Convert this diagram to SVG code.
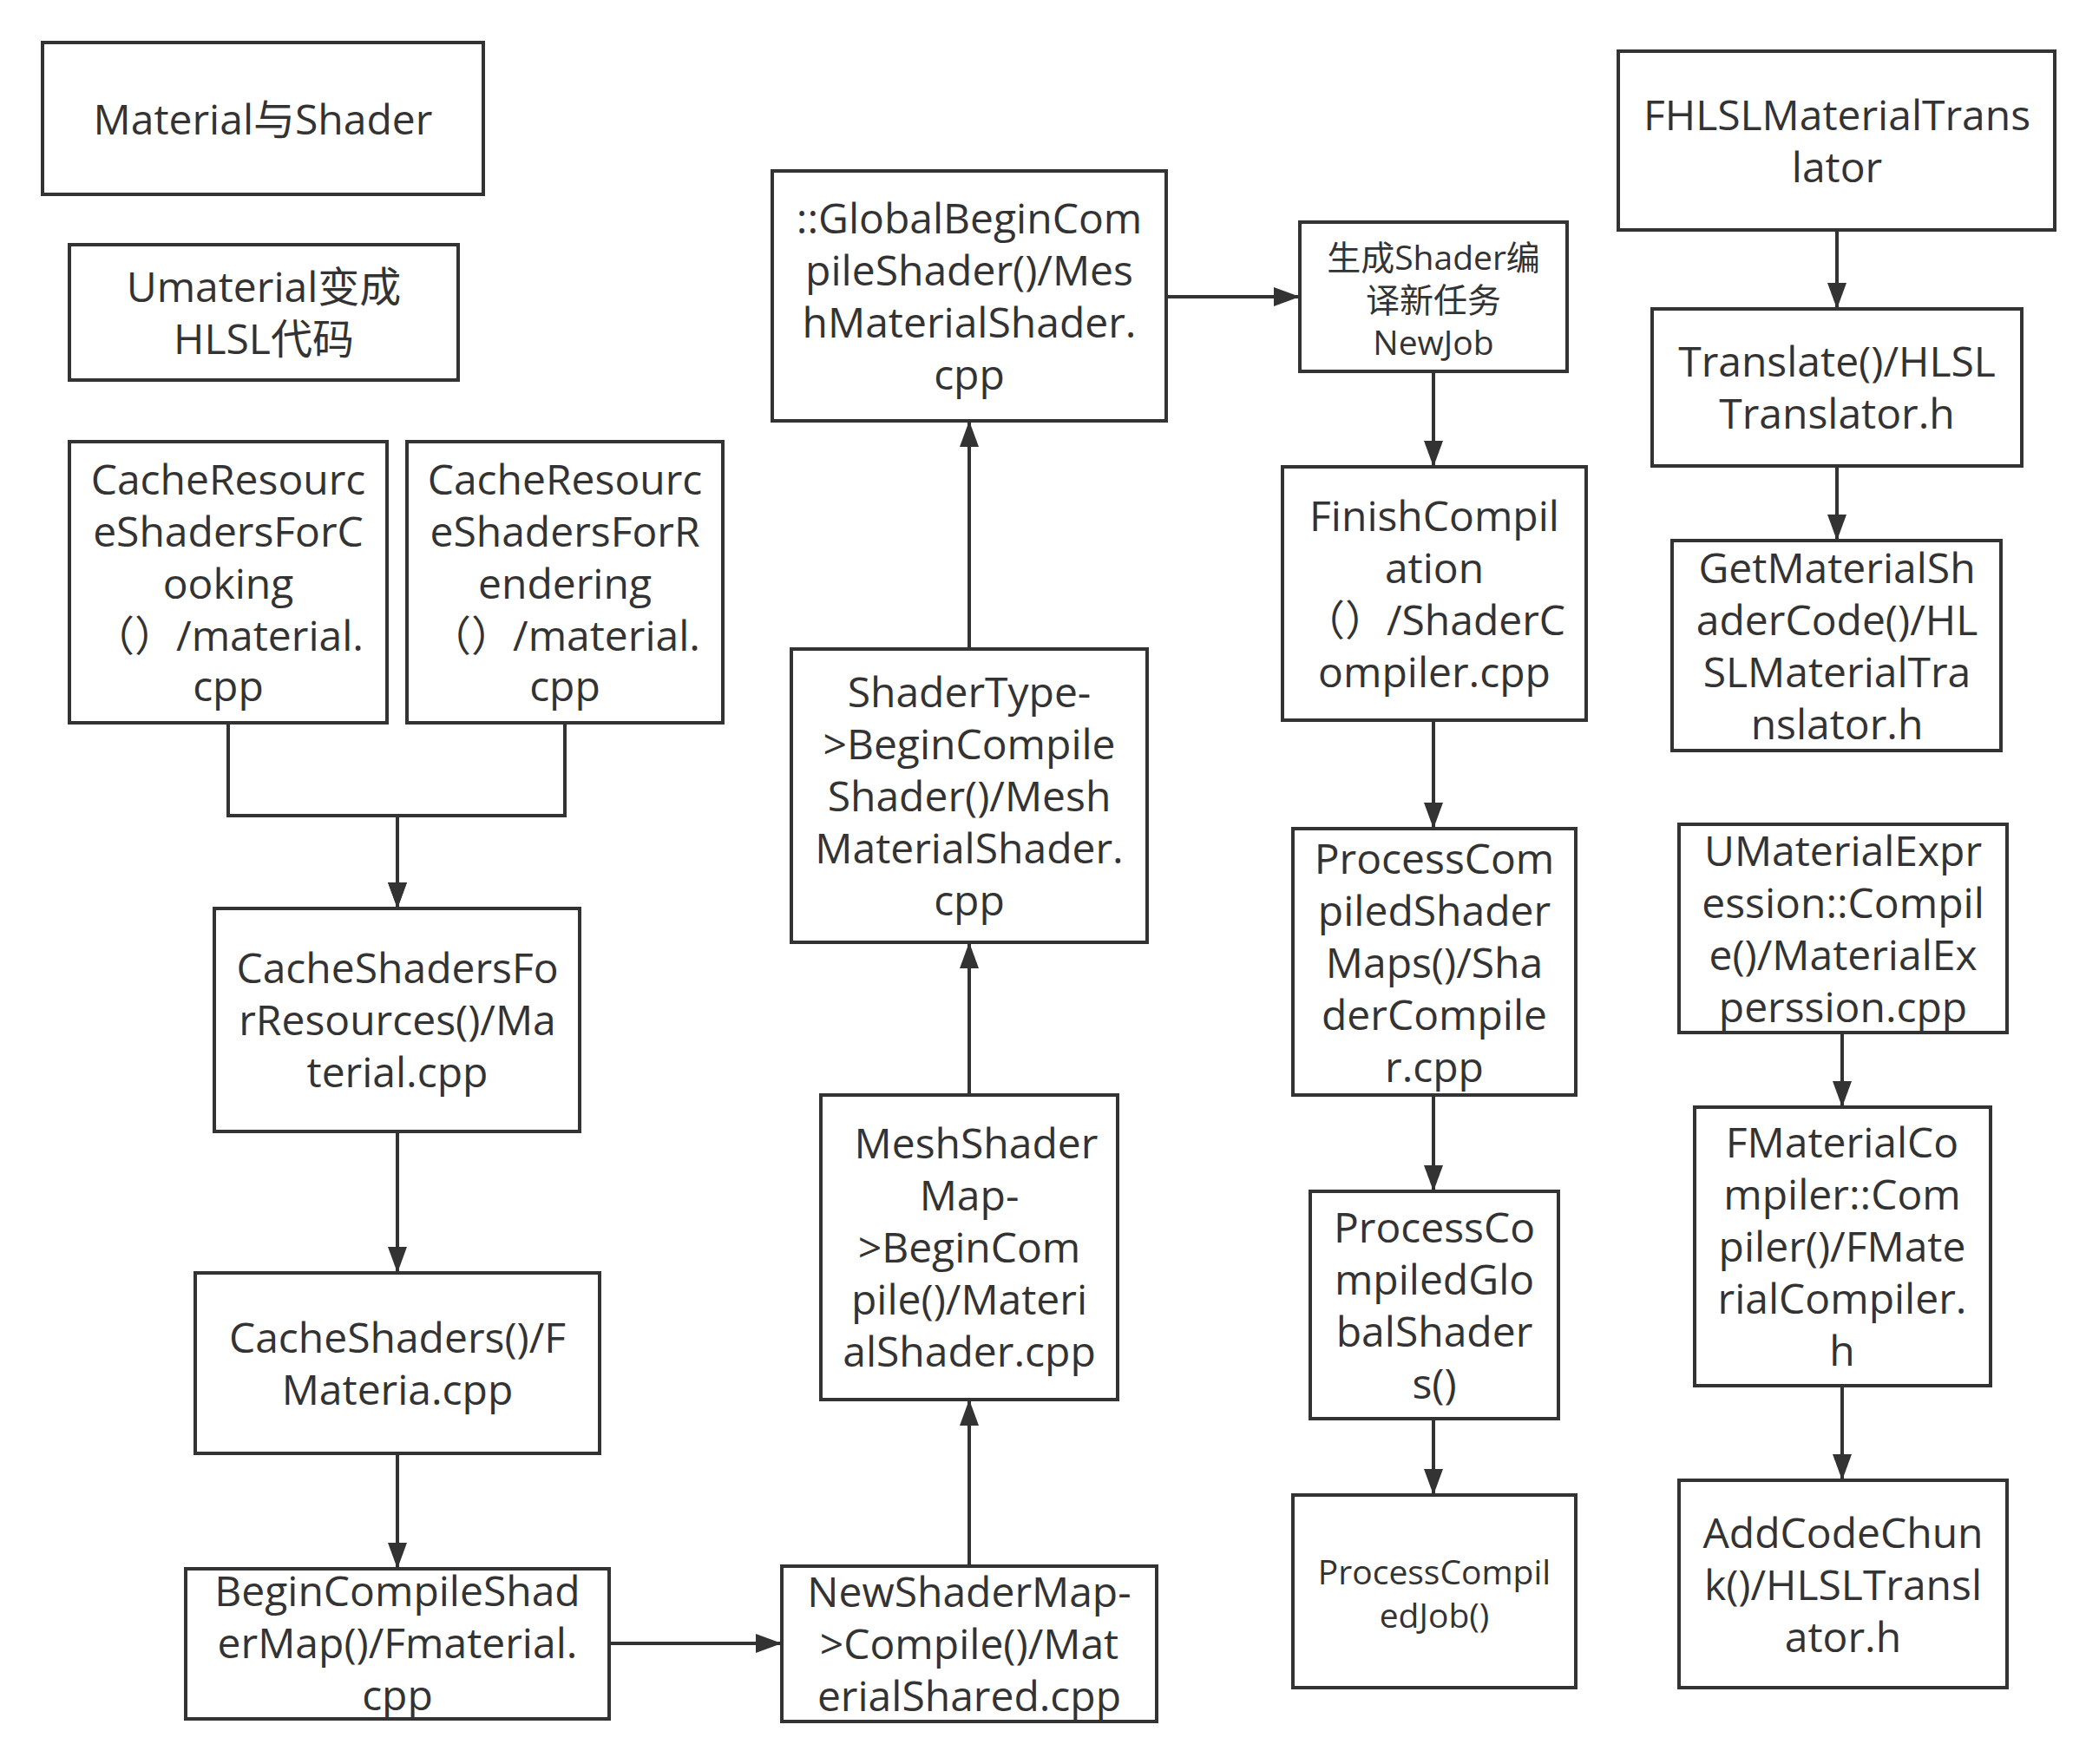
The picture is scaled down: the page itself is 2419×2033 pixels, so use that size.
<svg xmlns="http://www.w3.org/2000/svg" width="2419" height="2033" viewBox="0 0 2419 2033">
<style>
.box{fill:#fff;stroke:#333;stroke-width:4}
.t{font-family:"Open Sans","Noto Sans CJK SC",sans-serif;font-size:48px;fill:#333;text-anchor:middle}
.s{font-size:39px}
.c{fill:none;stroke:#333;stroke-width:4}
</style>
<defs>
<marker id="ah" markerUnits="userSpaceOnUse" markerWidth="30" markerHeight="22" refX="30" refY="11" orient="auto">
<path d="M0,0 L30,11 L0,22 z" fill="#333"/>
</marker>
</defs>
<rect width="2419" height="2033" fill="#fff"/>
<g id="connectors">
<path class="c" d="M263,833 V940 H458 V1047" marker-end="url(#ah)"/>
<path class="c" d="M651,833 V940 H458 V1047" marker-end="url(#ah)"/>
<path class="c" d="M458,1304 V1467" marker-end="url(#ah)"/>
<path class="c" d="M458,1675 V1808" marker-end="url(#ah)"/>
<path class="c" d="M702,1894 H901" marker-end="url(#ah)"/>
<path class="c" d="M1117,1805 V1613" marker-end="url(#ah)"/>
<path class="c" d="M1117,1262 V1086" marker-end="url(#ah)"/>
<path class="c" d="M1117,748 V485" marker-end="url(#ah)"/>
<path class="c" d="M1344,342 H1498" marker-end="url(#ah)"/>
<path class="c" d="M1652,428 V538" marker-end="url(#ah)"/>
<path class="c" d="M1652,830 V955" marker-end="url(#ah)"/>
<path class="c" d="M1652,1262 V1373" marker-end="url(#ah)"/>
<path class="c" d="M1652,1635 V1723" marker-end="url(#ah)"/>
<path class="c" d="M2117,265 V356" marker-end="url(#ah)"/>
<path class="c" d="M2117,537 V623" marker-end="url(#ah)"/>
<path class="c" d="M2123,1190 V1276" marker-end="url(#ah)"/>
<path class="c" d="M2123,1597 V1706" marker-end="url(#ah)"/>
</g>
<g id="n1"><rect class="box" x="49" y="49" width="508" height="175"/>
<text class="t" x="303" y="155">Material与Shader</text></g>
<g id="n2"><rect class="box" x="80" y="282" width="448" height="156"/>
<text class="t" x="304" y="348">Umaterial变成</text><text class="t" x="304" y="408">HLSL代码</text></g>
<g id="n3"><rect class="box" x="80" y="509" width="366" height="324"/>
<text class="t" x="263"><tspan x="263" y="570">CacheResourc</tspan><tspan x="263" y="630">eShadersForC</tspan><tspan x="263" y="690">ooking</tspan><tspan x="263" y="750">（）/material.</tspan><tspan x="263" y="808">cpp</tspan></text></g>
<g id="n4"><rect class="box" x="469" y="509" width="364" height="324"/>
<text class="t" x="651"><tspan x="651" y="570">CacheResourc</tspan><tspan x="651" y="630">eShadersForR</tspan><tspan x="651" y="690">endering</tspan><tspan x="651" y="750">（）/material.</tspan><tspan x="651" y="808">cpp</tspan></text></g>
<g id="n5"><rect class="box" x="247" y="1047" width="421" height="257"/>
<text class="t" x="458"><tspan x="458" y="1133">CacheShadersFo</tspan><tspan x="458" y="1193">rResources()/Ma</tspan><tspan x="458" y="1253">terial.cpp</tspan></text></g>
<g id="n6"><rect class="box" x="225" y="1467" width="466" height="208"/>
<text class="t" x="458"><tspan x="458" y="1559">CacheShaders()/F</tspan><tspan x="458" y="1619">Materia.cpp</tspan></text></g>
<g id="n7"><rect class="box" x="214" y="1808" width="488" height="173"/>
<text class="t" x="458"><tspan x="458" y="1851">BeginCompileShad</tspan><tspan x="458" y="1911">erMap()/Fmaterial.</tspan><tspan x="458" y="1971">cpp</tspan></text></g>
<g id="n8"><rect class="box" x="901" y="1805" width="432" height="179"/>
<text class="t" x="1117"><tspan x="1117" y="1852">NewShaderMap-</tspan><tspan x="1117" y="1912">&gt;Compile()/Mat</tspan><tspan x="1117" y="1972">erialShared.cpp</tspan></text></g>
<g id="n9"><rect class="box" x="946" y="1262" width="342" height="351"/>
<text class="t" x="1117"><tspan x="1125" y="1335">MeshShader</tspan><tspan x="1117" y="1395">Map-</tspan><tspan x="1117" y="1455">&gt;BeginCom</tspan><tspan x="1117" y="1515">pile()/Materi</tspan><tspan x="1117" y="1575">alShader.cpp</tspan></text></g>
<g id="n10"><rect class="box" x="912" y="748" width="410" height="338"/>
<text class="t" x="1117"><tspan x="1117" y="815">ShaderType-</tspan><tspan x="1117" y="875">&gt;BeginCompile</tspan><tspan x="1117" y="935">Shader()/Mesh</tspan><tspan x="1117" y="995">MaterialShader.</tspan><tspan x="1117" y="1055">cpp</tspan></text></g>
<g id="n11"><rect class="box" x="890" y="197" width="454" height="288"/>
<text class="t" x="1117"><tspan x="1117" y="269">::GlobalBeginCom</tspan><tspan x="1117" y="329">pileShader()/Mes</tspan><tspan x="1117" y="389">hMaterialShader.</tspan><tspan x="1117" y="449">cpp</tspan></text></g>
<g id="n12"><rect class="box" x="1498" y="256" width="308" height="172"/>
<text class="t s" x="1652"><tspan x="1652" y="311">生成Shader编</tspan><tspan x="1652" y="360">译新任务</tspan><tspan x="1652" y="409">NewJob</tspan></text></g>
<g id="n13"><rect class="box" x="1478" y="538" width="350" height="292"/>
<text class="t" x="1653"><tspan x="1653" y="612">FinishCompil</tspan><tspan x="1653" y="672">ation</tspan><tspan x="1653" y="732">（）/ShaderC</tspan><tspan x="1653" y="792">ompiler.cpp</tspan></text></g>
<g id="n14"><rect class="box" x="1490" y="955" width="326" height="307"/>
<text class="t" x="1653"><tspan x="1653" y="1007">ProcessCom</tspan><tspan x="1653" y="1067">piledShader</tspan><tspan x="1653" y="1127">Maps()/Sha</tspan><tspan x="1653" y="1187">derCompile</tspan><tspan x="1653" y="1247">r.cpp</tspan></text></g>
<g id="n15"><rect class="box" x="1510" y="1373" width="286" height="262"/>
<text class="t" x="1653"><tspan x="1653" y="1432">ProcessCo</tspan><tspan x="1653" y="1492">mpiledGlo</tspan><tspan x="1653" y="1552">balShader</tspan><tspan x="1653" y="1612">s()</tspan></text></g>
<g id="n16"><rect class="box" x="1490" y="1723" width="326" height="222"/>
<text class="t s" x="1653"><tspan x="1653" y="1826">ProcessCompil</tspan><tspan x="1653" y="1876">edJob()</tspan></text></g>
<g id="n17"><rect class="box" x="1865" y="59" width="503" height="206"/>
<text class="t" x="2117"><tspan x="2117" y="150">FHLSLMaterialTrans</tspan><tspan x="2117" y="210">lator</tspan></text></g>
<g id="n18"><rect class="box" x="1904" y="356" width="426" height="181"/>
<text class="t" x="2117"><tspan x="2117" y="434">Translate()/HLSL</tspan><tspan x="2117" y="494">Translator.h</tspan></text></g>
<g id="n19"><rect class="box" x="1927" y="623" width="379" height="242"/>
<text class="t" x="2117"><tspan x="2117" y="672">GetMaterialSh</tspan><tspan x="2117" y="732">aderCode()/HL</tspan><tspan x="2117" y="792">SLMaterialTra</tspan><tspan x="2117" y="852">nslator.h</tspan></text></g>
<g id="n20"><rect class="box" x="1935" y="950" width="378" height="240"/>
<text class="t" x="2124"><tspan x="2124" y="998">UMaterialExpr</tspan><tspan x="2124" y="1058">ession::Compil</tspan><tspan x="2124" y="1118">e()/MaterialEx</tspan><tspan x="2124" y="1178">perssion.cpp</tspan></text></g>
<g id="n21"><rect class="box" x="1953" y="1276" width="341" height="321"/>
<text class="t" x="2123"><tspan x="2123" y="1334">FMaterialCo</tspan><tspan x="2123" y="1394">mpiler::Com</tspan><tspan x="2123" y="1454">piler()/FMate</tspan><tspan x="2123" y="1514">rialCompiler.</tspan><tspan x="2123" y="1574">h</tspan></text></g>
<g id="n22"><rect class="box" x="1935" y="1706" width="378" height="239"/>
<text class="t" x="2124"><tspan x="2124" y="1784">AddCodeChun</tspan><tspan x="2124" y="1844">k()/HLSLTransl</tspan><tspan x="2124" y="1904">ator.h</tspan></text></g>
</svg>
